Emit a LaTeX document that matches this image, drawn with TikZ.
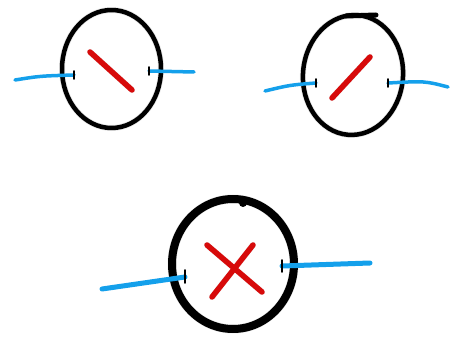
\documentclass[tikz,border=0pt]{standalone}
\begin{document}
\begin{tikzpicture}[x=1pt,y=-1pt,
  ring/.style={draw=black,line width=#1,line join=round},
  bar/.style={draw={rgb,255:red,215;green,10;blue,10},line width=5.5pt,line cap=round},
  wire/.style={draw={rgb,255:red,20;green,160;blue,235},line width=#1,line cap=round},
  tick/.style={draw=black,line width=1.8pt,line cap=round},
  shade/.style={draw=black!30,opacity=0.3,line width=#1,line cap=round}]
\useasboundingbox (0,0) rectangle (450,339);
% ---- top-left
\coordinate (o1) at (111.5,69);
\draw[shade=6pt,xshift=3pt,yshift=-4pt] (o1) ellipse [x radius=49.5, y radius=59];
\draw[ring=4.5pt] (o1) ellipse [x radius=49.5, y radius=59];
\coordinate (a1) at (90,52); \coordinate (a2) at (132,90);
\draw[shade=6pt,xshift=3pt,yshift=-4pt] (a1) -- (a2);
\draw[bar] (a1) -- (a2);
\coordinate (al) at (15,80); \coordinate (ar) at (74,75);
\draw[wire=3.5pt] (al) .. controls (40,76) .. (ar);
\draw[tick] (74,71) -- (74,79);
\coordinate (bl) at (149,71); \coordinate (br) at (194,72);
\draw[wire=3.5pt] (bl) -- (br);
\draw[tick] (149,67) -- (149,75);
% ---- top-right
\coordinate (o2) at (353,75);
\draw[shade=6pt,xshift=3pt,yshift=-4pt,rotate around={-5:(o2)}] (o2) ellipse [x radius=50, y radius=60];
\draw[ring=4.5pt,rotate around={-5:(o2)}] (o2) ellipse [x radius=50, y radius=60];
\draw[line width=5pt,line cap=round] (346,16) -- (376,15);
\coordinate (c1) at (332,98); \coordinate (c2) at (370,57);
\draw[shade=6pt,xshift=3pt,yshift=-4pt] (c1) -- (c2);
\draw[bar] (c1) -- (c2);
\coordinate (cl) at (265,91); \coordinate (cr) at (316,83);
\draw[wire=3.5pt] (cl) .. controls (290,85) .. (cr);
\draw[tick] (316,79) -- (316,87);
\coordinate (dl) at (388,83); \coordinate (dr) at (448,87);
\draw[wire=3.5pt] (dl) .. controls (425,81) .. (dr);
\draw[tick] (388,79) -- (388,87);
% ---- bottom
\coordinate (o3) at (233,264);
\draw[shade=9pt,xshift=3pt,yshift=-4pt] (o3) ellipse [x radius=61, y radius=65];
\draw[ring=8pt] (o3) ellipse [x radius=61, y radius=65];
\fill (243,203) circle (4pt);
\coordinate (x1) at (207,245); \coordinate (x2) at (262,292);
\coordinate (x3) at (253,245); \coordinate (x4) at (212,297);
\draw[shade=6pt,xshift=3pt,yshift=-4pt] (x1) -- (x2) (x3) -- (x4);
\draw[bar] (x1) -- (x2);
\draw[bar] (x3) -- (x4);
\coordinate (el) at (102,289); \coordinate (er) at (185,277);
\draw[wire=5pt] (el) -- (er);
\draw[tick] (185,270) -- (185,283);
\coordinate (fl) at (282,266); \coordinate (fr) at (370,263);
\draw[wire=5pt] (fl) -- (fr);
\draw[tick] (282,260) -- (282,272);
\end{tikzpicture}
\end{document}
